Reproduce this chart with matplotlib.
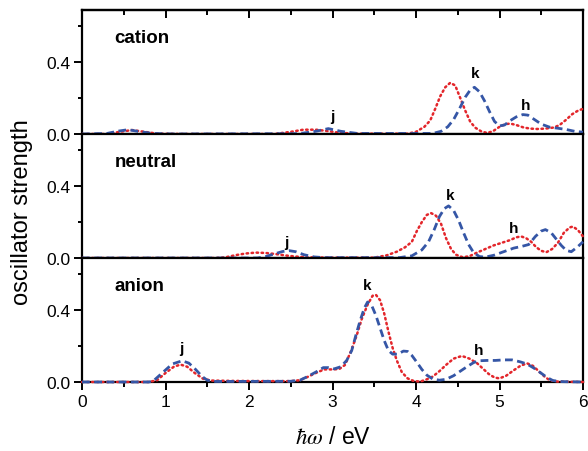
import matplotlib
matplotlib.use("Agg")
import matplotlib.pyplot as plt
from matplotlib.ticker import MultipleLocator, FixedLocator

plt.rcParams['font.family'] = ['Liberation Sans', 'DejaVu Sans']
plt.rcParams['mathtext.fontset'] = 'stix'

# ---------------- data ----------------
panels = ["cation", "neutral", "anion"]

cat_red_x = [0.0, 0.3, 0.45, 0.6, 0.75, 0.9, 1.2, 2.3, 2.5, 2.65, 2.8, 2.95, 3.1, 3.3, 3.9, 4.0, 4.1, 4.17, 4.23, 4.29, 4.35, 4.41, 4.47, 4.53, 4.59, 4.65, 4.71, 4.78, 4.85, 4.92, 5.0, 5.07, 5.13, 5.2, 5.29, 5.37, 5.45, 5.55, 5.65, 5.72, 5.8, 5.87, 5.94, 6.0]
cat_red_y = [0.0, 0.0, 0.012, 0.022, 0.012, 0.002, 0.0, 0.0, 0.012, 0.024, 0.024, 0.016, 0.006, 0.002, 0.002, 0.012, 0.04, 0.075, 0.14, 0.21, 0.26, 0.285, 0.27, 0.2, 0.13, 0.068, 0.035, 0.015, 0.006, 0.015, 0.04, 0.055, 0.058, 0.05, 0.036, 0.03, 0.028, 0.03, 0.036, 0.05, 0.08, 0.11, 0.13, 0.14]

cat_blue_x = [0.0, 0.3, 0.42, 0.55, 0.68, 0.85, 1.1, 2.6, 2.8, 2.95, 3.1, 3.3, 4.2, 4.3, 4.38, 4.45, 4.52, 4.59, 4.65, 4.7, 4.76, 4.82, 4.88, 4.94, 5.0, 5.06, 5.13, 5.2, 5.28, 5.34, 5.42, 5.5, 5.6, 5.7, 5.8, 5.9, 6.0]
cat_blue_y = [0.0, 0.003, 0.015, 0.024, 0.014, 0.003, 0.0, 0.002, 0.015, 0.03, 0.015, 0.003, 0.003, 0.015, 0.04, 0.08, 0.14, 0.205, 0.245, 0.26, 0.235, 0.185, 0.125, 0.07, 0.045, 0.05, 0.075, 0.095, 0.108, 0.105, 0.08, 0.055, 0.038, 0.032, 0.025, 0.015, 0.01]

neu_red_x = [0.0, 1.6, 1.72, 1.84, 1.96, 2.08, 2.2, 2.32, 2.44, 2.56, 2.7, 3.0, 3.5, 3.65, 3.77, 3.87, 3.95, 4.01, 4.07, 4.13, 4.18, 4.24, 4.3, 4.36, 4.42, 4.48, 4.56, 4.64, 4.73, 4.83, 4.93, 5.03, 5.13, 5.2, 5.26, 5.32, 5.38, 5.44, 5.5, 5.56, 5.63, 5.7, 5.77, 5.84, 5.88, 5.94, 6.0]
neu_red_y = [0.0, 0.0, 0.004, 0.016, 0.025, 0.03, 0.028, 0.022, 0.014, 0.008, 0.004, 0.002, 0.002, 0.015, 0.035, 0.06, 0.09, 0.15, 0.2, 0.24, 0.25, 0.235, 0.19, 0.11, 0.05, 0.018, 0.004, 0.01, 0.03, 0.05, 0.07, 0.085, 0.1, 0.115, 0.12, 0.11, 0.09, 0.06, 0.04, 0.032, 0.05, 0.085, 0.14, 0.17, 0.175, 0.155, 0.12]

neu_blue_x = [0.0, 2.1, 2.2, 2.3, 2.4, 2.48, 2.56, 2.66, 2.78, 2.9, 3.8, 3.95, 4.07, 4.15, 4.22, 4.28, 4.34, 4.39, 4.45, 4.51, 4.57, 4.63, 4.69, 4.76, 4.83, 4.93, 5.05, 5.17, 5.27, 5.35, 5.43, 5.5, 5.55, 5.62, 5.68, 5.74, 5.8, 5.86, 5.93, 6.0]
neu_blue_y = [0.0, 0.0, 0.008, 0.022, 0.036, 0.041, 0.035, 0.018, 0.006, 0.002, 0.002, 0.012, 0.045, 0.09, 0.16, 0.23, 0.275, 0.29, 0.265, 0.21, 0.14, 0.075, 0.03, 0.008, 0.005, 0.015, 0.035, 0.055, 0.065, 0.075, 0.12, 0.15, 0.158, 0.14, 0.105, 0.07, 0.042, 0.035, 0.06, 0.09]

ani_red_x = [0.0, 0.8, 0.9, 1.0, 1.1, 1.18, 1.26, 1.35, 1.45, 1.55, 1.8, 2.2, 2.5, 2.61, 2.7, 2.8, 2.9, 3.0, 3.08, 3.15, 3.22, 3.29, 3.35, 3.42, 3.48, 3.52, 3.57, 3.62, 3.67, 3.72, 3.77, 3.83, 3.9, 3.97, 4.05, 4.13, 4.2, 4.28, 4.36, 4.45, 4.55, 4.64, 4.73, 4.8, 4.87, 4.94, 5.0, 5.08, 5.17, 5.25, 5.33, 5.4, 5.47, 5.54, 5.6, 5.7, 6.0]
ani_red_y = [0.0, 0.0, 0.01, 0.05, 0.085, 0.097, 0.085, 0.05, 0.018, 0.008, 0.006, 0.005, 0.005, 0.01, 0.028, 0.05, 0.07, 0.07, 0.072, 0.095, 0.17, 0.26, 0.35, 0.43, 0.48, 0.485, 0.455, 0.38, 0.28, 0.19, 0.12, 0.055, 0.02, 0.006, 0.002, 0.015, 0.03, 0.06, 0.095, 0.13, 0.145, 0.13, 0.105, 0.075, 0.045, 0.025, 0.02, 0.035, 0.065, 0.09, 0.104, 0.09, 0.06, 0.03, 0.01, 0.002, 0.0]

ani_blue_x = [0.0, 0.8, 0.85, 0.96, 1.08, 1.2, 1.28, 1.36, 1.44, 1.5, 1.6, 2.5, 2.61, 2.7, 2.8, 2.89, 2.95, 3.02, 3.1, 3.17, 3.23, 3.28, 3.33, 3.38, 3.42, 3.47, 3.52, 3.57, 3.62, 3.67, 3.72, 3.78, 3.85, 3.9, 3.95, 4.01, 4.07, 4.13, 4.2, 4.28, 4.36, 4.45, 4.53, 4.61, 4.69, 4.75, 4.85, 4.95, 5.05, 5.15, 5.25, 5.33, 5.41, 5.49, 5.57, 5.64, 5.75, 6.0]
ani_blue_y = [0.0, 0.0, 0.004, 0.05, 0.1, 0.118, 0.105, 0.07, 0.03, 0.01, 0.003, 0.004, 0.01, 0.03, 0.055, 0.08, 0.08, 0.073, 0.085, 0.12, 0.175, 0.26, 0.34, 0.41, 0.445, 0.425, 0.37, 0.3, 0.23, 0.175, 0.155, 0.155, 0.172, 0.17, 0.148, 0.11, 0.07, 0.038, 0.017, 0.01, 0.015, 0.035, 0.06, 0.085, 0.108, 0.118, 0.12, 0.12, 0.123, 0.123, 0.112, 0.1, 0.078, 0.052, 0.025, 0.008, 0.002, 0.0]

# peak labels: (text, energy, strength)
cat_marks = [("j", 3.0, 0.099), ("k", 4.71, 0.34), ("h", 5.31, 0.162)]
neu_marks = [("j", 2.45, 0.088), ("k", 4.41, 0.35), ("h", 5.17, 0.167)]
ani_marks = [("j", 1.19, 0.188), ("k", 3.42, 0.54), ("h", 4.75, 0.179)]

x_ticks = [0, 1, 2, 3, 4, 5, 6]
y_ticks = [0.0, 0.4]
y_ticklabels = ["0.0", "0.4"]

series = [
    (cat_red_x, cat_red_y, cat_blue_x, cat_blue_y, cat_marks),
    (neu_red_x, neu_red_y, neu_blue_x, neu_blue_y, neu_marks),
    (ani_red_x, ani_red_y, ani_blue_x, ani_blue_y, ani_marks),
]

RED = "#e3262b"
BLUE = "#3556a6"

fig = plt.figure(figsize=(5.88, 4.52), dpi=100)
gs = fig.add_gridspec(3, 1, left=82/588, right=583/588, top=1-11/452, bottom=1-383/452, hspace=0)
axes = [fig.add_subplot(gs[i]) for i in range(3)]

for i, ax in enumerate(axes):
    rx, ry, bx, by, marks = series[i]
    ax.plot(rx, ry, linestyle=(0, (0.6, 1.4)), dash_capstyle='round', color=RED, lw=1.8, clip_on=False, zorder=3)
    ax.plot(bx, by, linestyle=(0, (2.8, 1.6)), color=BLUE, lw=2.0, clip_on=False, zorder=4)
    ax.set_xlim(0, 6)
    ax.set_ylim(0, 0.69)
    ax.xaxis.set_major_locator(FixedLocator(x_ticks))
    ax.xaxis.set_minor_locator(MultipleLocator(0.5))
    ax.yaxis.set_major_locator(FixedLocator(y_ticks))
    ax.yaxis.set_minor_locator(FixedLocator([0.2, 0.6]))
    ax.set_yticklabels(y_ticklabels)
    ax.tick_params(axis='y', which='major', direction='out', length=5.5, width=1.4, labelsize=12.5, pad=3)
    ax.tick_params(axis='y', which='minor', direction='out', length=3, width=1.4)
    ax.tick_params(axis='x', which='major', direction='out', length=5.5, width=1.4, labelsize=12.5, pad=3)
    ax.tick_params(axis='x', which='minor', direction='out', length=3.5, width=1.4)
    for sp in ax.spines.values():
        sp.set_linewidth(1.6)
    if i < 2:
        ax.tick_params(axis='x', which='both', labelbottom=False)
    ax.text(0.065, 0.78, panels[i], transform=ax.transAxes, fontsize=13.5, fontweight='bold', va='center', ha='left')
    for t, ex, ey in marks:
        ax.text(ex, ey, t, fontsize=11, fontweight='bold', ha='center', va='center')

# inward ticks on the very top spine
top = axes[0].secondary_xaxis('top')
top.xaxis.set_major_locator(FixedLocator(x_ticks))
top.xaxis.set_minor_locator(MultipleLocator(0.5))
top.tick_params(axis='x', which='major', direction='in', length=5.5, width=1.4, labeltop=False)
top.tick_params(axis='x', which='minor', direction='in', length=3.5, width=1.4)
top.spines['top'].set_linewidth(1.6)

fig.text(22/588, 1-212/452, "oscillator strength", rotation=90, ha='center', va='center', fontsize=17)
fig.text(333/588, 1-438/452, r"$\hbar\omega$ / eV", ha='center', va='center', fontsize=16.5)

fig.savefig("out.png", dpi=100)
